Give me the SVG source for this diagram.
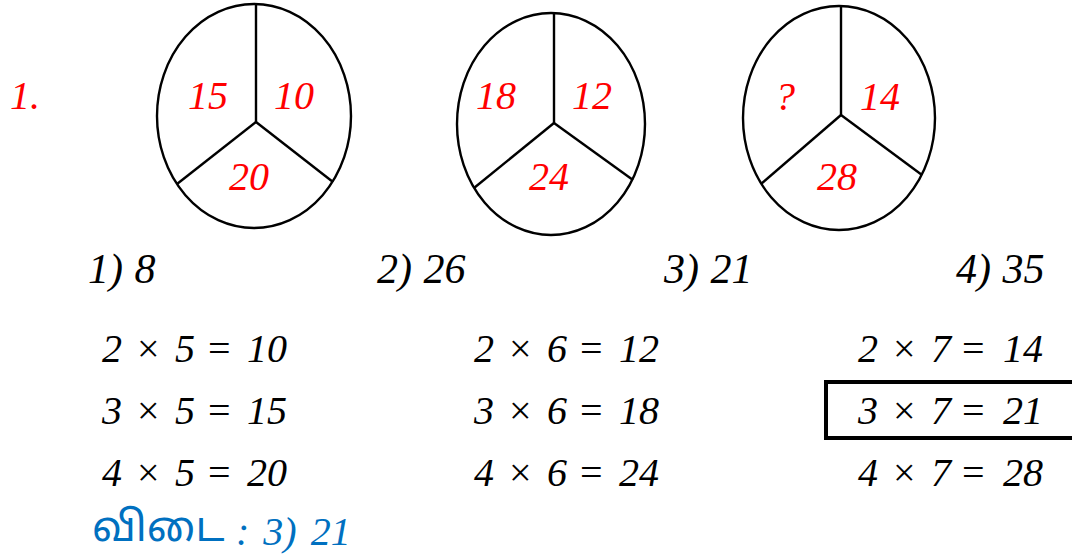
<svg xmlns="http://www.w3.org/2000/svg" width="1072" height="558" viewBox="0 0 1072 558">
<style>
  .shape { fill: none; stroke: #000; stroke-width: 2.4; }
  .num { font-family: 'Liberation Serif', 'Times New Roman', Tinos, 'DejaVu Serif', serif; font-style: italic; font-size: 40px; }
  .opt { font-size: 42px; word-spacing: 1px; }
  .red { fill: #ff0000; }
  .blk { fill: #000; }
  .op { font-style: normal; }
  .ans { fill: #0070c0; word-spacing: 4px; }
  .tam { font-family: 'Noto Sans Tamil', 'Noto Serif Tamil', 'Lohit Tamil', Latha, sans-serif; font-style: normal; font-size: 42px; fill: #0070c0; }
</style>
<rect width="1072" height="558" fill="#fff"/>

<text id="qnum" class="num red" x="10" y="109">1.</text>

<g id="figure1">
  <ellipse class="shape" cx="254" cy="116" rx="97" ry="112"/>
  <g class="connectors">
    <line class="shape" x1="256" y1="4" x2="256" y2="122"/>
    <line class="shape" x1="256" y1="122" x2="177" y2="184"/>
    <line class="shape" x1="256" y1="122" x2="333" y2="182"/>
  </g>
  <text class="num red" x="188" y="109">15</text>
  <text class="num red" x="274" y="109">10</text>
  <text class="num red" x="229" y="190">20</text>
</g>

<g id="figure2">
  <ellipse class="shape" cx="551" cy="124" rx="94" ry="111"/>
  <g class="connectors">
    <line class="shape" x1="554" y1="13" x2="554" y2="123"/>
    <line class="shape" x1="554" y1="123" x2="474" y2="188"/>
    <line class="shape" x1="554" y1="123" x2="633" y2="180"/>
  </g>
  <text class="num red" x="476" y="109">18</text>
  <text class="num red" x="572" y="109">12</text>
  <text class="num red" x="529" y="190">24</text>
</g>

<g id="figure3">
  <ellipse class="shape" cx="839" cy="118" rx="96" ry="112"/>
  <g class="connectors">
    <line class="shape" x1="841" y1="6" x2="841" y2="115"/>
    <line class="shape" x1="841" y1="115" x2="761" y2="184"/>
    <line class="shape" x1="841" y1="115" x2="922" y2="175"/>
  </g>
  <text class="num red" x="775" y="110">?</text>
  <text class="num red" x="860" y="110">14</text>
  <text class="num red" x="817" y="190">28</text>
</g>

<g id="options">
  <text class="num opt blk" x="88" y="283">1) 8</text>
  <text class="num opt blk" x="377" y="283">2) 26</text>
  <text class="num opt blk" x="664" y="283">3) 21</text>
  <text class="num opt blk" x="956" y="283">4) 35</text>
</g>

<g id="col1">
  <text class="num blk" y="362"><tspan x="102">2</tspan><tspan class="op" x="137">×</tspan><tspan x="175">5</tspan><tspan class="op" x="208">=</tspan><tspan x="247">10</tspan></text>
  <text class="num blk" y="424"><tspan x="102">3</tspan><tspan class="op" x="137">×</tspan><tspan x="175">5</tspan><tspan class="op" x="208">=</tspan><tspan x="247">15</tspan></text>
  <text class="num blk" y="486"><tspan x="102">4</tspan><tspan class="op" x="137">×</tspan><tspan x="175">5</tspan><tspan class="op" x="208">=</tspan><tspan x="247">20</tspan></text>
</g>

<g id="col2">
  <text class="num blk" y="362"><tspan x="474">2</tspan><tspan class="op" x="509">×</tspan><tspan x="547">6</tspan><tspan class="op" x="580">=</tspan><tspan x="619">12</tspan></text>
  <text class="num blk" y="424"><tspan x="474">3</tspan><tspan class="op" x="509">×</tspan><tspan x="547">6</tspan><tspan class="op" x="580">=</tspan><tspan x="619">18</tspan></text>
  <text class="num blk" y="486"><tspan x="474">4</tspan><tspan class="op" x="509">×</tspan><tspan x="547">6</tspan><tspan class="op" x="580">=</tspan><tspan x="619">24</tspan></text>
</g>

<g id="col3">
  <text class="num blk" y="362"><tspan x="858">2</tspan><tspan class="op" x="893">×</tspan><tspan x="931">7</tspan><tspan class="op" x="962">=</tspan><tspan x="1003">14</tspan></text>
  <rect x="826" y="382" width="260" height="56" fill="none" stroke="#000" stroke-width="4"/>
  <text class="num blk" y="424"><tspan x="858">3</tspan><tspan class="op" x="893">×</tspan><tspan x="931">7</tspan><tspan class="op" x="962">=</tspan><tspan x="1003">21</tspan></text>
  <text class="num blk" y="486"><tspan x="858">4</tspan><tspan class="op" x="893">×</tspan><tspan x="931">7</tspan><tspan class="op" x="962">=</tspan><tspan x="1003">28</tspan></text>
</g>

<g id="answer">
  <text class="tam" x="92" y="541">விடை</text>
  <text class="num ans" x="236" y="545">: 3) 21</text>
</g>
</svg>
